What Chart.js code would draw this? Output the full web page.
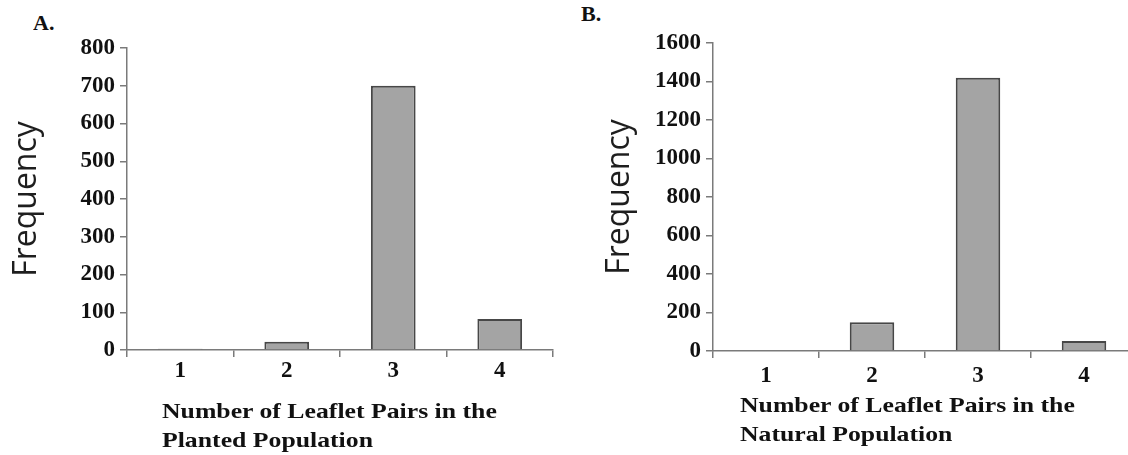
<!DOCTYPE html>
<html lang="en">
<head>
<meta charset="UTF-8">
<title>Leaflet pair frequencies</title>
<script src="https://cdn.jsdelivr.net/npm/chart.js"></script>
<style>
    html, body { margin: 0; padding: 0; background: #fff; overflow: hidden; }
    .panel { position: absolute; top: 0; }
    #panelA { left: 0; }
    #panelB { left: 570px; }
    .tag { position: absolute; font: bold 20px/20px "Liberation Serif", serif; color: #111; transform: scaleX(1.1); transform-origin: left; }
    .xtitle { position: absolute; font: bold 22px/29px "Liberation Serif", serif; color: #111; white-space: nowrap;
              transform: scaleX(1.17); transform-origin: left top; }
</style>
</head>
<body>
    <div class="tag" style="left:33px; top:13px;">A.</div>
    <div class="tag" style="left:581px; top:4px;">B.</div>

    <canvas id="panelA" class="panel" width="565" height="455"></canvas>
    <canvas id="panelB" class="panel" width="575" height="455"></canvas>

    <div class="xtitle" style="left:162px; top:396px;">Number of Leaflet Pairs in the<br>Planted Population</div>
    <div class="xtitle" style="left:740px; top:390px;">Number of Leaflet Pairs in the<br>Natural Population</div>

<script>
// leaflet pair counts
const pairLabels = ['1', '2', '3', '4'];
const plantedFreq = [3, 22, 700, 82];
const naturalFreq = [0, 150, 1420, 52];

const plantedAxis = { max: 800, step: 100 };
const naturalAxis = { max: 1600, step: 200 };

const tickFont = { family: 'Liberation Serif', size: 23, weight: 'bold' };
const axisColor = '#7a7a7a';

function makeChart(id, values, axis, opts) {
    return new Chart(document.getElementById(id), {
        type: 'bar',
        data: {
            labels: pairLabels,
            datasets: [{
                data: values,
                backgroundColor: '#a4a4a4',
                borderColor: '#474747',
                borderWidth: 2,
                categoryPercentage: 1,
                barPercentage: 0.42
            }]
        },
        options: {
            responsive: false,
            animation: false,
            layout: { padding: opts.padding },
            plugins: { legend: { display: false }, tooltip: { enabled: false } },
            scales: {
                x: {
                    grid: { offset: true, drawOnChartArea: false, tickLength: 7, color: axisColor, lineWidth: 1.5 },
                    border: { color: axisColor, width: 1.5 },
                    ticks: { font: tickFont, color: '#111', padding: opts.xPad },
                    afterFit: s => { s.height = opts.xHeight; }
                },
                y: {
                    min: 0,
                    max: axis.max,
                    grid: { drawOnChartArea: false, tickLength: 7, color: axisColor, lineWidth: 1.5 },
                    border: { color: axisColor, width: 1.5 },
                    ticks: {
                        stepSize: axis.step, font: tickFont, color: '#111', padding: 5,
                        callback: v => String(v)
                    },
                    title: {
                        display: true,
                        text: 'Frequency',
                        color: '#1e1e1e',
                        font: { family: 'Open Sans', size: 32 },
                        padding: { top: 0, bottom: 0 }
                    },
                    afterFit: s => { s.width = opts.yWidth; }
                }
            }
        }
    });
}

makeChart('panelA', plantedFreq, plantedAxis, {
    padding: { left: 8, top: 48, right: 12, bottom: 0 },
    yWidth: 119, xHeight: 105, xPad: 0
});

makeChart('panelB', naturalFreq, naturalAxis, {
    padding: { left: 31, top: 43, right: 8, bottom: 0 },
    yWidth: 112, xHeight: 104, xPad: 4
});
</script>
</body>
</html>
